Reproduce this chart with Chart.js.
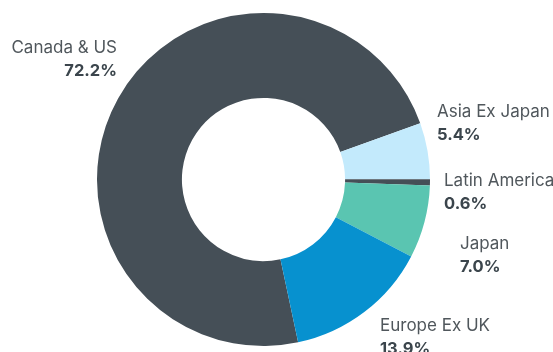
<!DOCTYPE html>
<html>
<head>
<meta charset="utf-8">
<script src="https://cdn.jsdelivr.net/npm/chart.js@4/dist/chart.umd.min.js"></script>
<style>
  html, body { margin: 0; padding: 0; background: #fff; }
  #wrap { position: relative; width: 553px; height: 352px; }
</style>
</head>
<body>
<div id="wrap"><canvas id="chart" width="553" height="352"></canvas></div>
<script>
const regions = ['Canada & US', 'Asia Ex Japan', 'Latin America', 'Japan', 'Europe Ex UK'];
const weights = [72.2, 5.4, 0.6, 7.0, 13.9];
const colors = ['#454f57', '#c3eafc', '#454f57', '#5ac5b1', '#0791cf'];

// where each label sits (x, baseline of the name line, alignment)
const labelPos = [
  { x: 117, y: 53, align: 'right' },
  { x: 437, y: 117, align: 'left' },
  { x: 444, y: 186, align: 'left' },
  { x: 460, y: 249, align: 'left' },
  { x: 380, y: 331, align: 'left' }
];

const labelPlugin = {
  id: 'sliceLabels',
  afterDraw(chart) {
    const ctx = chart.ctx;
    ctx.save();
    regions.forEach((name, i) => {
      const p = labelPos[i];
      ctx.textAlign = p.align;
      ctx.textBaseline = 'alphabetic';
      ctx.fillStyle = '#50575c';
      ctx.font = '400 17px Inter, "Liberation Sans", sans-serif';
      ctx.fillText(name, p.x, p.y);
      ctx.fillStyle = '#3b454c';
      ctx.font = '700 16.5px Inter, "Liberation Sans", sans-serif';
      ctx.fillText(weights[i].toFixed(1) + '%', p.x, p.y + 22.5);
    });
    ctx.restore();
  }
};

new Chart(document.getElementById('chart'), {
  type: 'doughnut',
  data: {
    labels: regions,
    datasets: [{
      data: weights,
      backgroundColor: colors,
      borderWidth: 0
    }]
  },
  options: {
    responsive: false,
    animation: false,
    rotation: 168,
    cutout: '49%',
    layout: { padding: { left: 97, right: 123, top: 13, bottom: 6 } },
    plugins: {
      legend: { display: false },
      tooltip: { enabled: false }
    }
  },
  plugins: [labelPlugin]
});
</script>
</body>
</html>
